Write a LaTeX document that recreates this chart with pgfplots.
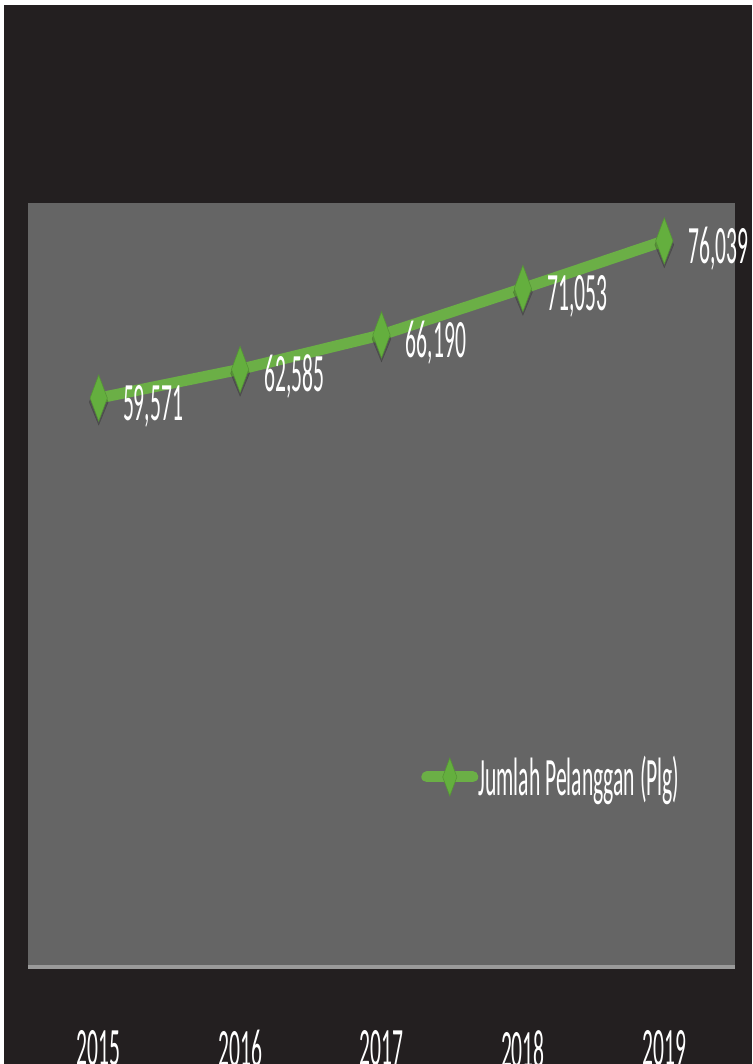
\documentclass[border=0pt]{standalone}
\usepackage{pgfplots}
\pgfplotsset{compat=1.18}
\usepackage{pgfplotstable}
\usepackage{fontspec}
\newfontfamily\cfont[FakeStretch=0.40]{Carlito}
\definecolor{bgdark}{HTML}{231F20}
\definecolor{plotgray}{HTML}{656565}
\definecolor{lgreen}{HTML}{6BAF46}
\definecolor{mgreen}{HTML}{64AF3E}
\definecolor{axgray}{HTML}{9A9A9A}
\newcommand\lbl{\cfont\fontsize{54pt}{60pt}\selectfont}

\pgfplotsset{legend image code/.code={\draw[mark repeat=2, mark phase=2, line cap=round, #1, line width=11pt, mark size=19pt]
    plot coordinates {(0pt,0pt)(23pt,0pt)(46pt,0pt)};}}

\pgfplotstableread{
x y label
0 59571 59,571
1 62585 62,585
2 66190 66,190
3 71053 71,053
4 76039 76,039
}\datatable

\begin{document}
\begin{tikzpicture}
\fill[white] (0,0) rectangle (752pt,1064pt);
\fill[bgdark] (4pt,0) rectangle (752pt,1059pt);
\begin{axis}[
  at={(28pt,97pt)}, anchor=south west,
  width=707pt, height=764pt, scale only axis,
  xmin=-0.5, xmax=4.5, ymin=0, ymax=80000,
  axis background/.style={fill=plotgray},
  axis lines*=left,
  x axis line style={draw=axgray, line width=4pt},
  y axis line style={draw=none},
  ytick=\empty,
  xtick={0,1,2,3,4},
  xticklabels={2015,2016,2017,2018,2019},
  major tick length=0pt,
  xticklabel style={anchor=north, inner sep=0pt, yshift=-63pt, font=\lbl, text=white},
  legend style={at={(0.556,0.2487)}, anchor=west, draw=none, fill=none,
    inner sep=0pt, font=\lbl, text=white, nodes={inner sep=0pt},
    /tikz/every even column/.append style={column sep=3pt}},
]
\addplot[forget plot, only marks, mark=diamond*, mark size=23pt,
  mark options={xscale=0.55, fill=black, draw=none, opacity=0.18, yshift=-4pt}]
  table[x=x, y=y] {\datatable};
\addplot[lgreen, line width=11pt,
  mark=diamond*, mark size=23pt,
  mark options={xscale=0.5, fill=mgreen, draw=mgreen!85!black, line width=0.6pt, solid},
  nodes near coords, point meta=explicit symbolic,
  every node near coord/.append style={anchor=base west, xshift=24pt, yshift=-22.5pt,
    font=\lbl, text=white, inner sep=0pt}
  ] table[x=x, y=y, meta=label] {\datatable};
\addlegendentry{Jumlah Pelanggan (Plg)}
\end{axis}
\pgfresetboundingbox
\useasboundingbox (0,0) rectangle (752pt,1064pt);
\end{tikzpicture}
\end{document}
